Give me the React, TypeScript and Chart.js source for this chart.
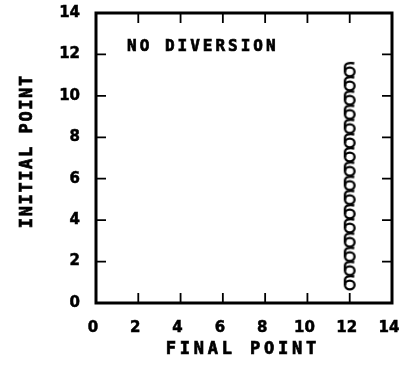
import React, { useEffect, useRef } from 'react';
import { Chart, registerables } from 'chart.js';

Chart.register(...registerables);

// ---- data ----
const xTickValues = [0, 2, 4, 6, 8, 10, 12, 14];
const yTickValues = [0, 2, 4, 6, 8, 10, 12, 14];
const finalPoint = [12, 12, 12, 12, 12, 12, 12, 12, 12, 12, 12, 12, 12, 12, 12, 12];
const initialPoint = [0.87, 1.56, 2.24, 2.93, 3.62, 4.3, 4.99, 5.67, 6.36, 7.05, 7.73, 8.42, 9.1, 9.79, 10.48, 11.16];
const annotationText = 'NO DIVERSION';
const xTitle = 'FINAL POINT';
const yTitle = 'INITIAL POINT';

const FONT = '"DejaVu Sans Mono", monospace';
const TICK_FONT = '"DejaVu Sans", sans-serif';

function makeGlyph(): HTMLCanvasElement {
  const c = document.createElement('canvas');
  c.width = 18;
  c.height = 30;
  const g = c.getContext('2d')!;
  g.strokeStyle = '#000';
  g.lineWidth = 2.3;
  g.beginPath();
  g.ellipse(9, 15, 4.8, 4.3, 0, 0, Math.PI * 2);
  g.stroke();
  g.beginPath();
  g.moveTo(4.2, 15);
  g.lineTo(4.2, 10);
  g.bezierCurveTo(4.2, 7, 7, 5.5, 13.5, 6.5);
  g.stroke();
  return c;
}

function spacedText(ctx: CanvasRenderingContext2D, text: string, x: number, y: number, spacing: number, align: 'left' | 'center') {
  ctx.letterSpacing = spacing + 'px';
  const w = ctx.measureText(text).width - spacing;
  const startX = align === 'center' ? x - w / 2 : x;
  ctx.textAlign = 'left';
  ctx.fillText(text, startX, y);
  ctx.strokeText(text, startX, y);
  ctx.letterSpacing = '0px';
}

const framePlugin = {
  id: 'frameAndText',
  afterDraw(chart: any) {
    const { ctx, chartArea: a, scales } = chart;
    const xs = scales.x;
    const ys = scales.y;
    ctx.save();
    ctx.strokeStyle = '#000';
    ctx.lineWidth = 1.8;
    const tl = 10;
    xTickValues.forEach((v) => {
      const px = xs.getPixelForValue(v);
      if (v === xTickValues[0] || v === xTickValues[xTickValues.length - 1]) return;
      ctx.beginPath();
      ctx.moveTo(px, a.bottom);
      ctx.lineTo(px, a.bottom - tl);
      ctx.moveTo(px, a.top);
      ctx.lineTo(px, a.top + tl);
      ctx.stroke();
    });
    yTickValues.forEach((v) => {
      const py = ys.getPixelForValue(v);
      if (v === yTickValues[0] || v === yTickValues[yTickValues.length - 1]) return;
      ctx.beginPath();
      ctx.moveTo(a.left, py);
      ctx.lineTo(a.left + tl, py);
      ctx.moveTo(a.right, py);
      ctx.lineTo(a.right - tl, py);
      ctx.stroke();
    });
    ctx.lineWidth = 3;
    ctx.strokeRect(a.left, a.top, a.right - a.left, a.bottom - a.top);

    ctx.fillStyle = '#000';
    ctx.lineWidth = 0.7;
    ctx.textBaseline = 'middle';
    ctx.font = 'bold 16px ' + FONT;
    spacedText(ctx, annotationText, a.left + 31, a.top + 34, 3, 'left');

    ctx.font = 'bold 17px ' + FONT;
    spacedText(ctx, xTitle, (a.left + a.right) / 2 - 3, a.bottom + 47, 3.8, 'center');

    ctx.translate(28, (a.top + a.bottom) / 2 - 6);
    ctx.rotate(-Math.PI / 2);
    spacedText(ctx, yTitle, 0, 0, 1.6, 'center');
    ctx.restore();
  },
};

export default function App() {
  const ref = useRef<HTMLCanvasElement>(null);
  useEffect(() => {
    document.body.style.margin = '0';
    const glyph = makeGlyph();
    const tickFont = { family: TICK_FONT, size: 15, weight: 'bold' as const };
    const chart = new Chart(ref.current!, {
      type: 'scatter',
      data: {
        datasets: [
          {
            data: finalPoint.map((x, i) => ({ x, y: initialPoint[i] })),
            pointStyle: glyph as any,
            pointRadius: 8,
            showLine: false,
          },
        ],
      },
      options: {
        animation: false,
        responsive: false,
        layout: { padding: { left: 0, right: 19, top: 13, bottom: 0 } },
        plugins: { legend: { display: false }, tooltip: { enabled: false } },
        scales: {
          x: {
            type: 'linear',
            min: 0,
            max: 14,
            afterBuildTicks: (s: any) => {
              s.ticks = xTickValues.map((v) => ({ value: v }));
            },
            ticks: {
              color: '#000',
              font: tickFont,
              padding: 8,
              labelOffset: -3,
              maxRotation: 0,
              textStrokeColor: '#000',
              textStrokeWidth: 0.5,
            },
            grid: { display: false },
            border: { display: false },
            afterFit: (s: any) => {
              s.height = 62;
              s.paddingLeft = 0;
              s.paddingRight = 0;
            },
          },
          y: {
            type: 'linear',
            min: 0,
            max: 14,
            afterBuildTicks: (s: any) => {
              s.ticks = yTickValues.map((v) => ({ value: v }));
            },
            ticks: {
              color: '#000',
              font: tickFont,
              padding: 8,
              textStrokeColor: '#000',
              textStrokeWidth: 0.5,
            },
            grid: { display: false },
            border: { display: false },
            afterFit: (s: any) => {
              s.width = 96;
              s.paddingTop = 0;
              s.paddingBottom = 0;
            },
          },
        },
      },
      plugins: [framePlugin],
    });
    return () => chart.destroy();
  }, []);
  return (
    <div style={{ position: 'absolute', left: 0, top: 0, width: 411, height: 365, background: '#fff' }}>
      <canvas ref={ref} width={411} height={365} style={{ display: 'block' }} />
    </div>
  );
}
